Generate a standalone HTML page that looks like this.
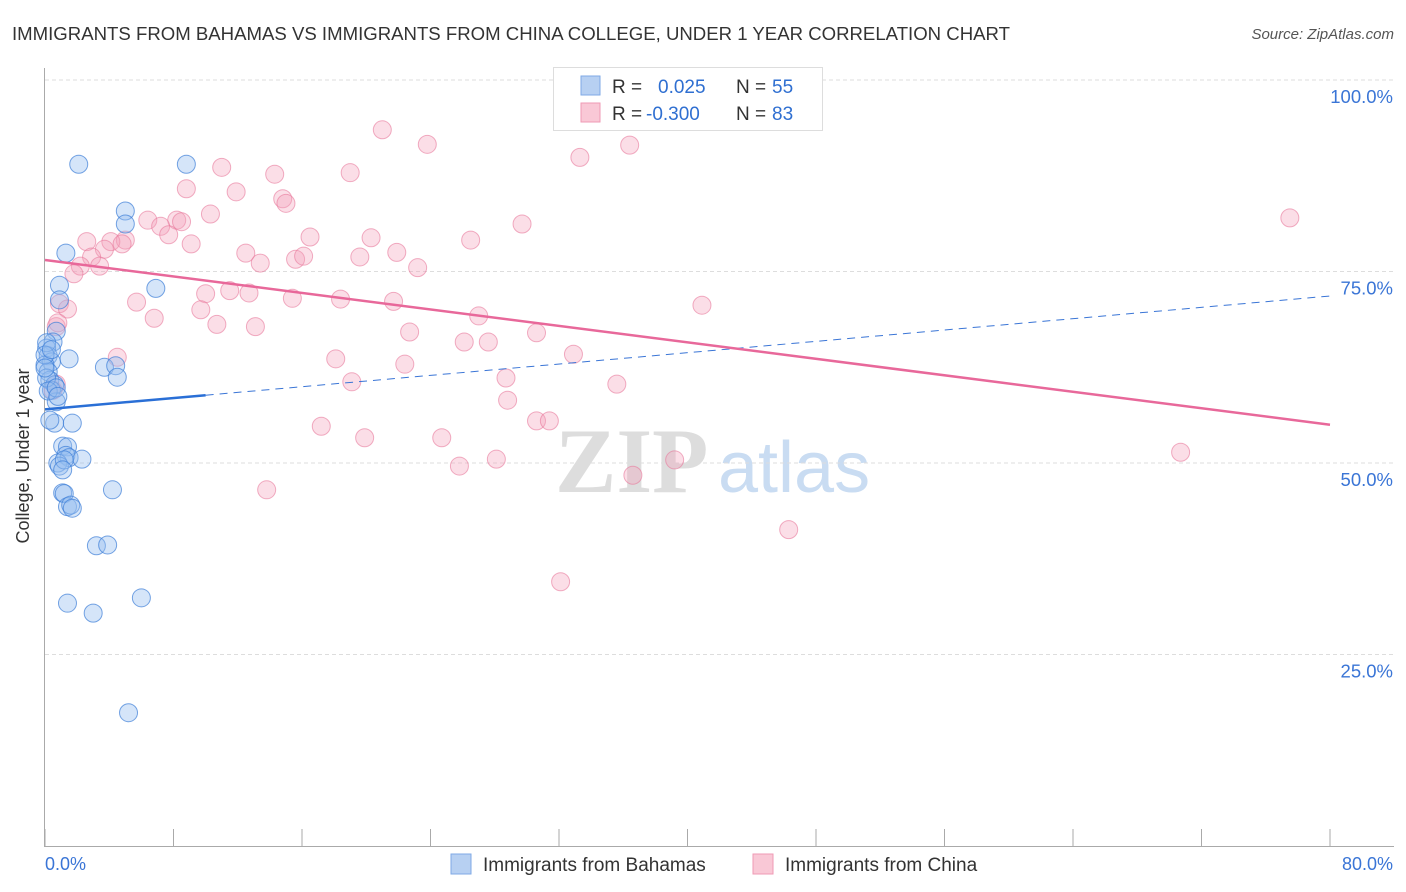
<!DOCTYPE html>
<html><head><meta charset="utf-8">
<style>
body{margin:0;background:#fff;font-family:"Liberation Sans",sans-serif;}
#wrap{position:relative;width:1406px;height:892px;overflow:hidden;}
</style></head>
<body>
<div id="wrap">
<svg id="svg" width="1406" height="892" xmlns="http://www.w3.org/2000/svg" font-family="Liberation Sans, sans-serif">
<text x="12" y="40" font-size="18.6" fill="#333">IMMIGRANTS FROM BAHAMAS VS IMMIGRANTS FROM CHINA COLLEGE, UNDER 1 YEAR CORRELATION CHART</text>
<text x="1394" y="39" font-size="15" fill="#555" font-style="italic" text-anchor="end">Source: ZipAtlas.com</text>
<text x="29" y="456" font-size="18" fill="#333" text-anchor="middle" transform="rotate(-90 29 456)">College, Under 1 year</text>
<g>
<text x="555" y="492" font-size="92" fill="#ddd" font-family="Liberation Serif, serif" font-weight="bold">ZIP</text>
<text x="718" y="492" font-size="72" fill="#c9dcf2">atlas</text>
</g>
<g id="grid"></g><g id="axes"></g><g id="marks"></g>
<g>
<rect x="553.5" y="67.5" width="269" height="63" fill="#fff" stroke="#ddd"/>
<rect x="581" y="76" width="19" height="19" fill="#b7d0f2" stroke="#7fa9e6"/>
<rect x="581" y="103" width="19" height="19" fill="#f9c8d6" stroke="#ef9ab4"/>
<text x="612" y="93" font-size="19" fill="#333">R =</text>
<text x="658" y="93" font-size="19" fill="#2f6fd1">0.025</text>
<text x="736" y="93" font-size="19" fill="#333">N =</text>
<text x="772" y="93" font-size="19" fill="#2f6fd1">55</text>
<text x="612" y="120" font-size="19" fill="#333">R =</text>
<text x="646" y="120" font-size="19" fill="#2f6fd1">-0.300</text>
<text x="736" y="120" font-size="19" fill="#333">N =</text>
<text x="772" y="120" font-size="19" fill="#2f6fd1">83</text>
</g>
<g>
<rect x="451" y="854" width="20" height="20" fill="#b7d0f2" stroke="#7fa9e6"/>
<text x="483" y="871" font-size="19" fill="#333">Immigrants from Bahamas</text>
<rect x="753" y="854" width="20" height="20" fill="#f9c8d6" stroke="#ef9ab4"/>
<text x="785" y="871" font-size="19" fill="#333">Immigrants from China</text>
</g>
</svg>
</div>
<script>
const yTicks=[25,50,75,100];
const yTickLabels=["25.0%","50.0%","75.0%","100.0%"];
const xTickCount=10;
const blueX=[2.1,8.8,5.0,5.0,1.3,6.9,0.9,0.9,0.7,0.5,0.1,0.2,0.4,1.5,0.0,3.7,4.4,4.5,0.2,0.3,0.6,0.4,0.7,0.6,1.7,1.1,1.4,1.3,1.5,2.3,0.8,0.9,1.2,4.2,1.1,1.2,1.4,1.6,3.2,3.9,1.4,3.0,6.0,5.2,0.1,0.0,0.1,0.2,1.1,0.7,0.0,0.4,0.8,0.3,1.7];
const blueY=[89.0,89.0,82.9,81.2,77.4,72.8,73.2,71.3,67.2,65.8,65.0,64.0,63.2,63.6,62.8,62.5,62.7,61.2,61.9,60.8,60.2,59.5,58.0,55.2,55.2,52.2,52.1,51.0,50.7,50.5,50.0,49.6,50.4,46.5,46.1,46.0,44.3,44.5,39.2,39.3,31.7,30.4,32.4,17.4,65.7,64.1,61.1,59.4,49.1,59.8,62.4,64.8,58.7,55.6,44.1];
const pinkX=[21.0,23.8,36.4,33.3,11.0,19.0,14.3,8.8,11.9,14.8,15.0,10.3,6.4,8.2,8.5,7.2,7.7,29.7,16.5,20.3,26.5,2.6,5.0,4.1,9.1,4.8,12.5,3.7,2.9,13.4,15.6,16.1,19.6,21.9,23.2,2.2,3.4,1.8,10.0,11.5,12.7,15.4,18.4,21.7,5.7,0.9,1.4,9.7,6.8,27.0,40.9,10.7,13.1,22.7,30.6,26.1,27.6,0.7,32.9,18.1,22.4,4.5,28.7,35.6,19.1,0.7,0.5,28.8,17.2,19.9,24.7,30.6,31.4,28.1,25.8,39.2,36.6,70.7,13.8,46.3,32.1,77.5,0.8];
const pinkY=[93.5,91.6,91.5,89.9,88.6,87.9,87.7,85.8,85.4,84.5,83.9,82.5,81.7,81.7,81.5,80.9,79.8,81.2,79.5,79.4,79.1,78.9,79.1,78.9,78.6,78.6,77.4,77.9,76.9,76.1,76.6,77.0,76.9,77.5,75.5,75.7,75.7,74.7,72.1,72.5,72.2,71.5,71.4,71.1,71.0,70.8,70.1,70.0,68.9,69.2,70.6,68.1,67.8,67.1,67.0,65.8,65.8,67.8,64.2,63.6,62.9,63.8,61.1,60.3,60.6,60.3,59.5,58.2,54.8,53.3,53.3,55.5,55.5,50.5,49.6,50.4,48.4,51.4,46.5,41.3,34.5,82.0,68.3];
const blueTrend=[57.0,71.8];
const pinkTrend=[76.5,55.0];
const blueSolidEnd=10;

const NS="http://www.w3.org/2000/svg";
const X0=45,X1=1330,Y0=846,Y100=80;
const sx=v=>X0+(v/80)*(X1-X0);
const sy=v=>Y0-(v/100)*(Y0-Y100);
function mk(tag,attrs,parent){const e=document.createElementNS(NS,tag);for(const k in attrs)e.setAttribute(k,attrs[k]);parent.appendChild(e);return e;}
const grid=document.getElementById('grid'),axes=document.getElementById('axes'),marks=document.getElementById('marks');
yTicks.forEach((t,i)=>{
  const l=mk('line',{x1:X0,x2:1394,y1:sy(t),y2:sy(t),stroke:'#ddd','stroke-dasharray':'4,3'},grid);
  
  
  const tx=mk('text',{x:1393,y:sy(t)+23,'font-size':18.5,fill:'#3a75d6','text-anchor':'end'},axes);
  tx.textContent=yTickLabels[i];
  
  
});
let a=mk('line',{x1:44.5,x2:44.5,y1:68,y2:Y0,stroke:'#aaa'},axes);


a=mk('line',{x1:44,x2:1394,y1:Y0+0.5,y2:Y0+0.5,stroke:'#aaa'},axes);


for(let i=0;i<=xTickCount;i++){
  const x=sx(i*8);
  const t=mk('line',{x1:x,x2:x,y1:829,y2:Y0,stroke:'#aaa'},axes);
  
  
}
let xl=mk('text',{x:45,y:870,'font-size':18,fill:'#3a75d6'},axes);xl.textContent='0.0%';


xl=mk('text',{x:1393,y:870,'font-size':18,fill:'#3a75d6','text-anchor':'end'},axes);xl.textContent='80.0%';



pinkX.forEach((x,i)=>{
  const c=mk('circle',{cx:sx(x),cy:sy(pinkY[i]),r:9,fill:'rgba(244,160,186,0.35)',stroke:'rgba(232,120,155,0.6)','stroke-width':1},marks);
  
  
});
blueX.forEach((x,i)=>{
  const c=mk('circle',{cx:sx(x),cy:sy(blueY[i]),r:9,fill:'rgba(150,190,240,0.4)',stroke:'rgba(60,125,215,0.7)','stroke-width':1},marks);
  
  
});
const bAt=x=>blueTrend[0]+(blueTrend[1]-blueTrend[0])*x/80;
let tl=mk('line',{x1:sx(blueSolidEnd),y1:sy(bAt(blueSolidEnd)),x2:sx(80),y2:sy(bAt(80)),stroke:'#3a75d6','stroke-width':1,'stroke-dasharray':'8,6'},marks);


tl=mk('line',{x1:sx(0),y1:sy(bAt(0)),x2:sx(blueSolidEnd),y2:sy(bAt(blueSolidEnd)),stroke:'#2a6fd6','stroke-width':2.5},marks);


tl=mk('line',{x1:sx(0),y1:sy(pinkTrend[0]),x2:sx(80),y2:sy(pinkTrend[1]),stroke:'#e8689a','stroke-width':2.5},marks);


</script>
</body></html>
